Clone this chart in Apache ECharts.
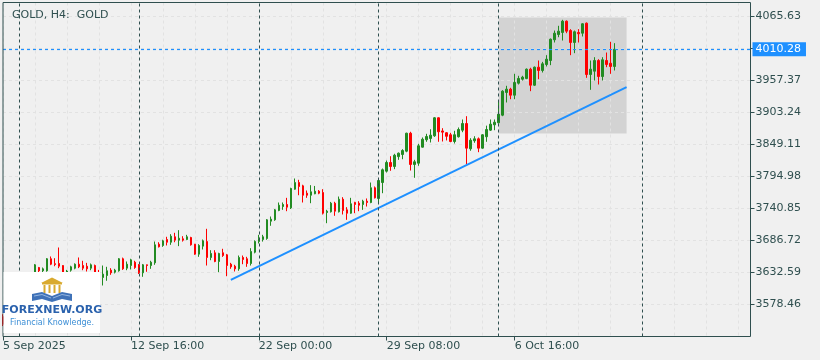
<!DOCTYPE html>
<html>
<head>
<meta charset="utf-8">
<script src="https://cdn.jsdelivr.net/npm/echarts@6/dist/echarts.min.js"></script>
<style>
html,body{margin:0;padding:0;background:#f0f0f0;}
#chart{width:820px;height:360px;}
</style>
</head>
<body>
<div id="chart"></div>
<script>
// ---- data (H4 bars, GOLD) ----
const opens = [3558.0,3546.0,3575.0,3598.0,3588.0,3600.0,3615.0,3622.0,3627.0,3641.0,
3635.5,3635.5,3655.8,3647.5,3647.8,3644.4,3626.0,3636.5,3639.9,3646.6,
3644.4,3643.2,3639.9,3644.4,3628.0,3624.2,3627.5,3636.5,3633.1,3635.5,
3655.8,3639.9,3644.5,3650.0,3645.6,3632.1,3645.6,3644.4,3649.0,3680.5,
3678.3,3688.4,3683.8,3693.0,3687.3,3689.6,3688.4,3691.8,3680.5,3663.6,
3677.2,3685.0,3658.0,3665.9,3651.2,3665.9,3662.5,3646.6,3643.2,3638.8,
3658.0,3655.8,3647.8,3666.9,3685.0,3688.4,3690.1,3719.4,3721.7,3737.5,
3744.2,3747.6,3742.0,3773.5,3784.8,3779.2,3766.7,3763.3,3765.7,3770.1,
3767.9,3734.1,3735.3,3749.8,3735.3,3756.6,3738.6,3732.9,3751.0,3749.8,
3747.6,3753.2,3751.0,3775.9,3757.8,3784.8,3804.0,3818.7,3811.9,3828.6,
3832.2,3837.8,3868.2,3815.3,3817.5,3844.6,3857.1,3859.3,3863.8,3894.3,
3872.0,3869.0,3865.6,3854.2,3862.2,3873.3,3884.6,3841.8,3855.4,3858.7,
3842.9,3862.2,3873.4,3882.4,3885.8,3898.7,3937.1,3942.7,3932.5,3952.8,
3959.6,3960.8,3976.5,3949.4,3979.9,3974.3,3984.4,3991.2,4026.2,4035.2,
4038.6,4057.7,4041.9,4021.7,4038.6,4037.4,4054.3,3967.5,3973.1,3991.2,
3964.1,3991.2,3986.6,3981.1];
const highs = [3562.0,3580.0,3601.0,3600.0,3605.0,3618.0,3626.0,3629.0,3647.0,3642.0,
3641.0,3657.0,3659.7,3656.8,3674.9,3645.0,3637.0,3644.0,3648.0,3658.0,
3652.4,3648.9,3647.8,3646.0,3637.0,3644.4,3642.2,3639.9,3638.8,3657.0,
3657.8,3651.2,3655.8,3652.4,3647.0,3647.0,3646.0,3652.4,3685.0,3683.8,
3688.0,3693.0,3697.4,3699.7,3704.2,3694.0,3696.3,3693.0,3681.0,3680.5,
3688.4,3706.5,3670.3,3670.3,3666.0,3672.7,3664.0,3648.9,3645.6,3661.3,
3661.3,3659.1,3673.7,3687.0,3696.3,3696.3,3723.0,3727.3,3740.0,3751.0,
3751.0,3758.9,3776.0,3791.6,3789.4,3781.0,3771.3,3780.3,3779.0,3772.0,
3773.5,3738.6,3752.0,3752.2,3761.1,3760.0,3743.1,3758.9,3752.2,3753.2,
3755.6,3757.8,3784.8,3778.1,3790.4,3808.5,3822.0,3829.3,3833.4,3835.6,
3841.2,3869.0,3870.6,3823.2,3850.3,3861.0,3867.2,3874.9,3895.5,3895.0,
3876.7,3870.0,3868.9,3872.3,3877.9,3891.4,3897.0,3859.8,3863.1,3861.0,
3866.6,3881.0,3891.4,3891.4,3921.8,3941.0,3948.4,3945.0,3968.7,3965.3,
3965.3,3977.7,3978.9,3981.0,3991.2,3988.9,4000.2,4028.4,4041.9,4049.9,
4060.0,4058.9,4044.2,4041.9,4044.2,4054.3,4055.5,3991.2,3996.8,3993.4,
3996.8,4004.7,4022.8,4020.5];
const lows = [3542.0,3542.0,3570.0,3582.0,3585.0,3596.0,3610.0,3615.0,3624.0,3631.4,
3631.4,3634.0,3645.0,3643.2,3639.9,3624.0,3622.0,3634.0,3638.0,3640.0,
3636.5,3634.3,3636.5,3624.0,3618.0,3610.6,3618.6,3628.7,3631.0,3634.0,
3637.0,3636.5,3637.7,3638.8,3630.0,3625.3,3633.8,3638.8,3645.6,3674.9,
3676.0,3678.3,3679.4,3683.8,3677.2,3684.9,3687.3,3678.0,3662.5,3659.1,
3671.5,3644.4,3653.4,3650.0,3633.1,3659.0,3626.3,3638.8,3634.3,3635.5,
3646.6,3642.2,3644.4,3665.0,3681.7,3684.9,3688.0,3711.6,3720.0,3736.3,
3738.6,3736.3,3740.0,3772.5,3763.3,3751.0,3758.9,3749.8,3765.0,3765.0,
3730.7,3716.0,3734.0,3728.5,3734.1,3730.7,3721.7,3731.9,3732.9,3736.3,
3738.6,3744.2,3749.8,3757.8,3749.8,3766.7,3801.7,3804.6,3807.4,3823.2,
3824.2,3836.0,3805.1,3792.8,3813.1,3844.0,3853.7,3852.5,3862.0,3853.7,
3854.2,3856.0,3853.0,3850.8,3860.9,3869.9,3815.8,3838.5,3852.0,3836.1,
3842.0,3853.7,3872.0,3873.3,3884.6,3897.0,3920.2,3925.7,3925.7,3950.6,
3957.3,3959.6,3939.3,3948.0,3959.6,3970.9,3981.1,3983.3,4021.7,4030.6,
4025.0,4037.4,4000.2,4003.6,4021.7,4031.8,3961.9,3941.6,3957.4,3950.6,
3957.4,3979.9,3968.7,3974.3];
const closes = [3545.0,3575.0,3598.0,3587.0,3600.0,3615.0,3622.0,3627.0,3645.6,3635.5,
3638.8,3655.8,3646.6,3646.0,3643.2,3628.0,3635.0,3642.2,3646.6,3642.2,
3639.9,3638.8,3645.6,3628.0,3624.0,3629.8,3635.5,3632.1,3636.5,3655.8,
3638.8,3646.6,3654.0,3641.0,3632.1,3645.6,3644.4,3650.0,3679.4,3676.1,
3686.2,3683.8,3694.0,3687.3,3690.6,3687.3,3693.0,3679.4,3663.6,3678.3,
3686.2,3658.0,3664.7,3651.2,3664.7,3661.3,3644.4,3642.2,3638.8,3658.0,
3654.6,3647.8,3668.1,3685.0,3690.6,3693.0,3721.7,3722.8,3738.6,3746.4,
3747.6,3743.1,3774.7,3784.8,3778.1,3763.3,3763.3,3769.1,3770.1,3766.7,
3732.9,3736.3,3749.8,3736.3,3756.6,3737.5,3732.9,3748.8,3747.6,3746.4,
3753.2,3751.0,3775.9,3758.9,3788.2,3806.3,3818.7,3811.9,3831.0,3834.4,
3838.9,3868.2,3815.3,3819.8,3846.9,3858.0,3862.7,3864.9,3894.3,3870.6,
3870.0,3863.0,3854.2,3865.6,3874.5,3884.6,3842.9,3856.4,3858.7,3842.9,
3865.5,3874.5,3883.5,3886.8,3900.4,3939.3,3942.7,3932.5,3954.0,3960.8,
3963.0,3976.5,3949.4,3979.9,3974.3,3985.6,3993.4,4027.2,4037.4,4040.8,
4057.7,4040.8,4021.7,4039.8,4036.4,4053.3,3967.5,3976.5,3991.2,3964.1,
3992.4,3984.4,3981.1,4010.28];

const lastPrice = 4010.28;
const yTickLabels = ['3578.46','3632.59','3686.72','3740.85','3794.98','3849.11','3903.24','3957.37','4065.63'];
const yTicks = [3578.46,3632.59,3686.72,3740.85,3794.98,3849.11,3903.24,3957.37,4065.63];
const xTickLabels = ['5 Sep 2025','12 Sep 16:00','22 Sep 00:00','29 Sep 08:00','6 Oct 16:00'];
const xTickEvery = 32;
const separators = ['2025.09.08 00:00','2025.09.15 00:00','2025.09.22 00:00','2025.09.29 00:00','2025.10.06 00:00','2025.10.14 00:00'];
const trendTimes = ['2025.09.18 20:00','2025.10.13 08:00'];
const trendPrices = [3620.2, 3946.0];
const rectTimes = ['2025.10.06 00:00','2025.10.13 08:00'];
const rectPrices = [4063.9, 3867.7];

// ---- categories: H4 bar times (Mon-Fri), incl. empty future slots ----
const slotCount = 188;
const categories = [];
(function(){
  let t = Date.UTC(2025, 8, 5, 8);
  const p = n => (n < 10 ? '0' : '') + n;
  while (categories.length < slotCount) {
    const d = new Date(t);
    const wd = d.getUTCDay();
    if (wd !== 0 && wd !== 6) {
      categories.push(d.getUTCFullYear() + '.' + p(d.getUTCMonth() + 1) + '.' + p(d.getUTCDate()) + ' ' + p(d.getUTCHours()) + ':00');
    }
    t += 4 * 3600 * 1000;
  }
})();
const idx = c => categories.indexOf(c);

const ohlc = opens.map((o, i) => [o, closes[i], lows[i], highs[i]]);
const yStep = +(yTicks[1] - yTicks[0]).toFixed(2);
const yMin = +(yTicks[0] - yStep).toFixed(2);
const yMax = 4089.31;

const FONT = 'DejaVu Sans';
const INK = '#2f4f4f';
const BLUE = '#1e90ff';
const chart = echarts.init(document.getElementById('chart'), null, {renderer: 'canvas'});
chart.setOption({
  animation: false,
  backgroundColor: '#f0f0f0',
  title: {
    text: 'GOLD, H4:  GOLD', left: 7, top: 5,
    textStyle: {fontSize: 11, fontWeight: 'normal', color: INK, fontFamily: FONT}
  },
  grid: {left: 2.5, top: 2.5, width: 748, height: 334, show: true, z: 6, borderColor: INK, borderWidth: 1, backgroundColor: 'transparent'},
  xAxis: {
    type: 'category', data: categories, boundaryGap: false, z: 2,
    axisLine: {show: false},
    axisTick: {show: true, length: 4, interval: i => i % xTickEvery === 0 && i / xTickEvery < xTickLabels.length, lineStyle: {color: INK}},
    axisLabel: {
      interval: i => i % xTickEvery === 0 && i / xTickEvery < xTickLabels.length,
      formatter: (v, i) => xTickLabels[Math.round(i / xTickEvery)] || '',
      align: 'left', margin: 4, color: INK, fontSize: 11, fontFamily: FONT
    },
    splitLine: {show: true, interval: 7, lineStyle: {color: '#e2e2e2', type: [3, 3], width: 1}}
  },
  yAxis: {
    type: 'value', position: 'right', min: yMin, max: yMax, interval: yStep, z: 2,
    axisLine: {show: false},
    axisTick: {show: true, length: 4, lineStyle: {color: INK}},
    axisLabel: {
      showMinLabel: false, showMaxLabel: false, margin: 5, color: INK, fontSize: 11, fontFamily: FONT,
      formatter: v => {
        const k = yTicks.findIndex(t => Math.abs(t - v) < 0.6);
        return k >= 0 ? yTickLabels[k] : '';
      }
    },
    splitLine: {show: true, lineStyle: {color: '#e2e2e2', type: [3, 3], width: 1}}
  },
  series: [
    {
      type: 'line', data: [], z: 1, silent: true,
      markArea: {
        silent: true,
        itemStyle: {color: '#d3d3d3'},
        data: [[{xAxis: idx(rectTimes[0]), yAxis: rectPrices[0]}, {xAxis: idx(rectTimes[1]), yAxis: rectPrices[1]}]]
      }
    },
    {
      type: 'candlestick', data: ohlc, z: 3, barWidth: 2,
      itemStyle: {color: '#228b22', color0: '#ff0000', borderColor: '#228b22', borderColor0: '#ff0000', borderWidth: 1},
      emphasis: {disabled: true},
      markLine: {
        silent: true, symbol: ['none', 'none'], animation: false,
        lineStyle: {color: INK, type: [3, 3], width: 1},
        label: {show: false},
        data: separators.map(c => ({xAxis: idx(c)}))
      }
    },
    {
      type: 'line', z: 4, silent: true, symbol: 'none', color: BLUE,
      data: trendTimes.map((c, i) => [idx(c), trendPrices[i]]),
      itemStyle: {color: BLUE},
      lineStyle: {color: BLUE, width: 2},
      markLine: {
        silent: true, symbol: ['none', 'none'], animation: false,
        itemStyle: {color: BLUE},
        lineStyle: {color: BLUE, type: [3, 3], width: 1.2, opacity: 1},
        label: {
          show: true, position: 'end', distance: 2, formatter: lastPrice.toFixed(2),
          color: '#ffffff', backgroundColor: BLUE, padding: [1, 5, 1, 3],
          fontSize: 11, fontFamily: FONT, lineHeight: 12
        },
        data: [{yAxis: lastPrice, lineStyle: {color: BLUE}}]
      }
    }
  ],
  graphic: [
    {type: 'rect', z: 100, shape: {x: 3.5, y: 272, width: 96.5, height: 61}, style: {fill: '#ffffff'}},
    {type: 'polygon', z: 101, shape: {points: [[41, 283], [52, 277.5], [63, 283]]}, style: {fill: '#d9aa2f'}},
    {type: 'rect', z: 101, shape: {x: 42, y: 283, width: 20, height: 1.5}, style: {fill: '#d9aa2f'}},
    {type: 'rect', z: 101, shape: {x: 43.5, y: 285, width: 2, height: 8}, style: {fill: '#d9aa2f'}},
    {type: 'rect', z: 101, shape: {x: 48.5, y: 285, width: 2, height: 8}, style: {fill: '#d9aa2f'}},
    {type: 'rect', z: 101, shape: {x: 53.5, y: 285, width: 2, height: 8}, style: {fill: '#d9aa2f'}},
    {type: 'rect', z: 101, shape: {x: 58.5, y: 285, width: 2, height: 8}, style: {fill: '#d9aa2f'}},
    {type: 'polygon', z: 101, shape: {points: [[32, 294], [42, 292], [52, 296], [52, 302], [42, 299], [32, 301]]}, style: {fill: '#3f72b8'}},
    {type: 'polygon', z: 101, shape: {points: [[72, 294], [62, 292], [52, 296], [52, 302], [62, 299], [72, 301]]}, style: {fill: '#3f72b8'}},
    {type: 'polyline', z: 102, shape: {points: [[34, 296], [42, 294.5], [51, 298]]}, style: {stroke: '#a9c6ea', lineWidth: 0.8, fill: null}},
    {type: 'polyline', z: 102, shape: {points: [[70, 296], [62, 294.5], [53, 298]]}, style: {stroke: '#a9c6ea', lineWidth: 0.8, fill: null}},
    {type: 'text', z: 101, x: 52, y: 310, style: {text: 'FOREXNEW.ORG', fontSize: 11, fontWeight: 'bold', fontFamily: FONT, fill: '#2b62ad', align: 'center', verticalAlign: 'middle'}},
    {type: 'text', z: 101, x: 52, y: 322.5, style: {text: 'Financial Knowledge.', fontSize: 8, fontFamily: FONT, fill: '#3d8fd6', align: 'center', verticalAlign: 'middle'}}
  ]
});
</script>
</body>
</html>
